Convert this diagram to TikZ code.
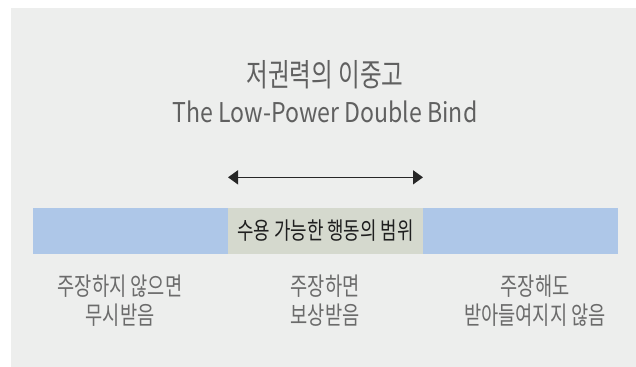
\documentclass[tikz,border=0pt]{standalone}
\usepackage{fontspec}
\newfontfamily\kr[FakeStretch=0.75]{Noto Sans CJK KR}
\newfontfamily\en[FakeStretch=0.85]{Noto Sans CJK KR}
\usetikzlibrary{positioning,arrows.meta}
\definecolor{panel}{HTML}{EDEEED}
\definecolor{barblue}{HTML}{AEC7E8}
\definecolor{barmid}{HTML}{D5D9CE}
\definecolor{title}{HTML}{606060}
\definecolor{note}{HTML}{6B6B6B}
\tikzset{
    seg/.style={
        rectangle,
        inner sep=0pt,
        outer sep=0pt,
        minimum width=146.25pt,
        minimum height=34.5pt
    },
    caption/.style={
        align=center,
        text=note,
        font=\kr\fontsize{18.7pt}{21.75pt}\selectfont
    },
    spanarrow/.style={
        draw=black!85,
        line width=1.1pt,
        {Triangle[width=10.5pt,length=7.5pt]}-{Triangle[width=10.5pt,length=7.5pt]}
    }
}

\begin{document}
\begin{tikzpicture}[x=0.75pt,y=-0.75pt]
  \useasboundingbox (0,0) rectangle (636,367);
  \fill[panel] (11,8) rectangle (636,367);

  \node[text=title,font=\kr\fontsize{23.6pt}{26pt}\selectfont] (T) at (325,75) {저권력의 이중고};
  \node[text=title,font=\en\fontsize{20.4pt}{24pt}\selectfont] (E) at (325,112) {The Low-Power Double Bind};

  \node[seg,fill=barmid,text=black!88,font=\kr\fontsize{17.9pt}{20pt}\selectfont] (M) at (325.5,231) {수용 가능한 행동의 범위};
  \node[seg,fill=barblue,left=0pt of M] (L) {};
  \node[seg,fill=barblue,right=0pt of M] (R) {};

  \coordinate (A) at ([yshift=23pt]M.north west);
  \coordinate (B) at ([yshift=23pt]M.north east);
  \draw[spanarrow] (A) -- (B);

  \node[caption] (CL) at (120,301) {주장하지 않으면\\무시받음};
  \node[caption] (CM) at (325,301) {주장하면\\보상받음};
  \node[caption] (CR) at (535,301) {주장해도\\받아들여지지 않음};

\end{tikzpicture}
\end{document}
